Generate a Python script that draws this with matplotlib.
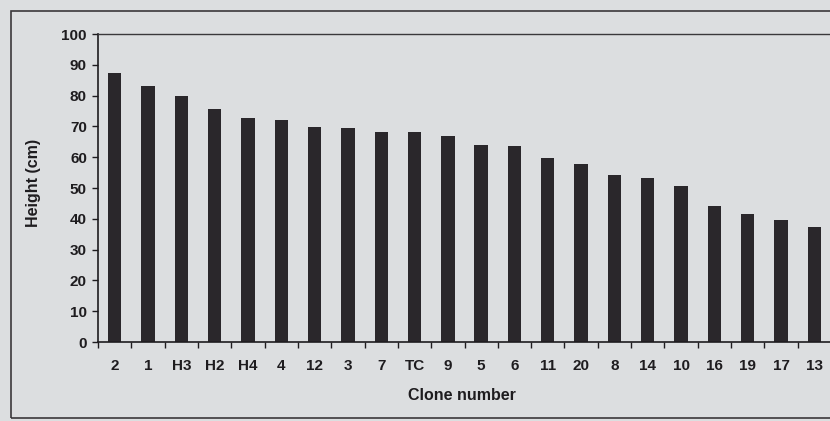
import matplotlib.pyplot as plt
import numpy as np
from matplotlib.patches import Rectangle

plt.rcParams['font.family'] = ['Liberation Sans', 'DejaVu Sans']

clones = ['2', '1', 'H3', 'H2', 'H4', '4', '12', '3', '7', 'TC', '9',
          '5', '6', '11', '20', '8', '14', '10', '16', '19', '17', '13']
heights = [87.3, 83.0, 80.0, 75.8, 72.8, 72.2, 69.8, 69.6, 68.3, 68.3, 66.8,
           63.9, 63.5, 59.6, 57.7, 54.1, 53.4, 50.5, 44.1, 41.4, 39.6, 37.4]
y_ticks = [0, 10, 20, 30, 40, 50, 60, 70, 80, 90, 100]

paper = '#dcdee0'
ink = '#1e1c1f'

fig = plt.figure(figsize=(8.3, 4.21), dpi=100)
fig.patch.set_facecolor(paper)

# scanned frame around the chart
fig.patches.append(Rectangle((11 / 830, 3 / 421), 1.0, 1 - 14 / 421,
                             transform=fig.transFigure, fill=False,
                             edgecolor='#3a383b', linewidth=1.2))

ax = fig.add_axes([98 / 830, 1 - 342 / 421, 733 / 830, 308 / 421])
ax.set_facecolor(paper)

x = np.arange(len(clones))
ax.bar(x, heights, width=0.4, color='#2a272b', edgecolor='none')

ax.set_xlim(-0.5, len(clones) - 0.5)
ax.set_ylim(0, 100)
ax.set_yticks(y_ticks)
ax.set_xticks(x)
ax.set_xticklabels(clones)
ax.set_xticks(np.arange(len(clones) + 1) - 0.5, minor=True)
ax.tick_params(axis='x', which='major', length=0, pad=12)
ax.tick_params(axis='x', which='minor', length=4, width=1, color=ink,
               direction='out')
ax.tick_params(axis='y', length=4, width=1, color=ink, pad=4)
for lab in ax.get_xticklabels() + ax.get_yticklabels():
    lab.set_fontsize(11)
    lab.set_fontweight('bold')
    lab.set_color(ink)

ax.spines['right'].set_visible(False)
ax.spines['top'].set_color('#3a383b')
ax.spines['top'].set_linewidth(1.0)
ax.spines['left'].set_color(ink)
ax.spines['bottom'].set_color(ink)
ax.spines['left'].set_linewidth(1.2)
ax.spines['bottom'].set_linewidth(1.2)

ax.set_xlabel('Clone number', fontsize=11.5, fontweight='bold', color=ink)
ax.set_ylabel('Height (cm)', fontsize=11.5, fontweight='bold', color=ink)
ax.xaxis.label.set_va('center')
ax.yaxis.label.set_va('center')
ax.xaxis.set_label_coords((462 - 98) / 733, -(395 - 342) / 308)
ax.yaxis.set_label_coords(-(98 - 33) / 733, (342 - 183) / 308)

plt.savefig('out.png', dpi=100, facecolor=paper)
plt.close()
